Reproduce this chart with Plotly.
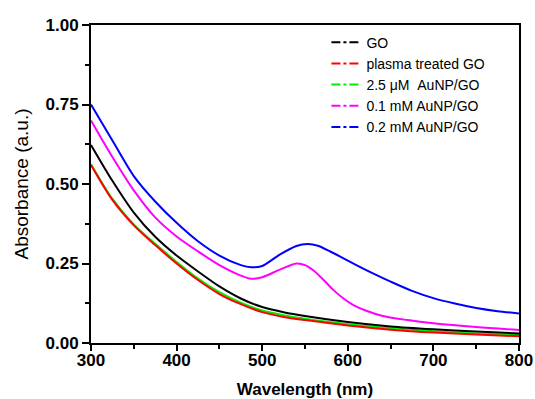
import plotly.graph_objects as go

wl_go = [300, 325, 350, 375, 400, 425, 450, 475, 500, 525, 550, 600, 650, 700, 750, 800]
go_abs = [0.623, 0.51, 0.41, 0.334, 0.275, 0.225, 0.178, 0.14, 0.113, 0.097, 0.085, 0.066, 0.052, 0.043, 0.036, 0.030]

wl_red = [300, 325, 350, 375, 400, 425, 450, 475, 500, 525, 550, 600, 650, 700, 750, 800]
red_abs = [0.56, 0.45, 0.37, 0.308, 0.25, 0.198, 0.154, 0.122, 0.097, 0.082, 0.072, 0.055, 0.042, 0.033, 0.027, 0.021]

wl_green = [300, 325, 350, 375, 400, 425, 450, 475, 500, 525, 550, 600, 650, 700, 750, 800]
green_abs = [0.562, 0.453, 0.373, 0.312, 0.255, 0.203, 0.16, 0.127, 0.102, 0.087, 0.076, 0.059, 0.046, 0.037, 0.030, 0.025]

wl_mag = [300, 325, 350, 375, 400, 425, 450, 475, 487, 500, 520, 540, 550, 560, 570, 583, 595, 606, 620, 641, 670, 700, 750, 800]
mag_abs = [0.70, 0.585, 0.48, 0.395, 0.335, 0.288, 0.245, 0.212, 0.202, 0.207, 0.23, 0.25, 0.245, 0.228, 0.203, 0.167, 0.14, 0.12, 0.103, 0.085, 0.072, 0.062, 0.05, 0.041]

wl_blue = [300, 325, 350, 375, 400, 425, 450, 475, 487, 500, 520, 540, 553, 565, 580, 595, 610, 630, 650, 675, 700, 725, 750, 775, 800]
blue_abs = [0.75, 0.637, 0.525, 0.445, 0.378, 0.32, 0.275, 0.245, 0.238, 0.242, 0.277, 0.305, 0.311, 0.306, 0.287, 0.266, 0.245, 0.218, 0.193, 0.164, 0.141, 0.124, 0.11, 0.1, 0.093]

names = ["GO", "plasma treated GO", "2.5\u00a0\u03bcM\u00a0\u00a0AuNP/GO", "0.1 mM AuNP/GO", "0.2 mM AuNP/GO"]
colors = ["#000000", "#ff0000", "#00ee00", "#ff00ff", "#0000ff"]

series = [
    (wl_green, green_abs, colors[2]),
    (wl_red, red_abs, colors[1]),
    (wl_go, go_abs, colors[0]),
    (wl_mag, mag_abs, colors[3]),
    (wl_blue, blue_abs, colors[4]),
]

fig = go.Figure()
for x, y, c in series:
    fig.add_trace(go.Scatter(x=x, y=y, mode="lines", line=dict(color=c, width=2, shape="spline", smoothing=0.8),
                             showlegend=False, hoverinfo="skip"))
for n, c in zip(names, colors):
    fig.add_trace(go.Scatter(x=[None], y=[None], mode="lines", name=n,
                             line=dict(color=c, width=2, dash="dashdot")))

axis_common = dict(
    showline=True, linecolor="black", linewidth=2, mirror=True,
    ticks="outside", tickwidth=2, tickcolor="black",
    showgrid=False, zeroline=False, automargin=False,
    tickfont=dict(family="Liberation Sans, Arial", size=17, color="black", weight="bold"),
)

fig.update_xaxes(range=[300, 800], tickvals=[300, 400, 500, 600, 700, 800], ticklen=6,
                 ticklabelstandoff=-5,
                 minor=dict(ticks="outside", ticklen=4, tickwidth=2, tickcolor="black", dtick=50, tick0=300),
                 title=dict(text="Wavelength (nm)", standoff=16,
                            font=dict(family="Liberation Sans, Arial", size=17, color="black", weight="bold")),
                 **axis_common)
fig.update_yaxes(range=[0, 1.0], tickvals=[0, 0.25, 0.5, 0.75, 1.0], tickformat=".2f", ticklen=7,
                 minor=dict(ticks="outside", ticklen=4, tickwidth=2, tickcolor="black", dtick=0.125, tick0=0),
                 title=dict(text="Absorbance (a.u.)", standoff=12,
                            font=dict(family="Liberation Sans, Arial", size=19, color="black")),
                 **axis_common)

fig.update_layout(
    width=535, height=399,
    margin=dict(l=91, r=16, t=25, b=56),
    paper_bgcolor="white", plot_bgcolor="white",
    legend=dict(x=0.55, y=0.995, xanchor="left", yanchor="top", bgcolor="rgba(0,0,0,0)",
                font=dict(family="Liberation Sans, Arial", size=14, color="black"),
                tracegroupgap=0, itemwidth=30),
)

fig.write_html("out.html", config={"displayModeBar": False},
               post_script="document.body.style.margin='0';")
